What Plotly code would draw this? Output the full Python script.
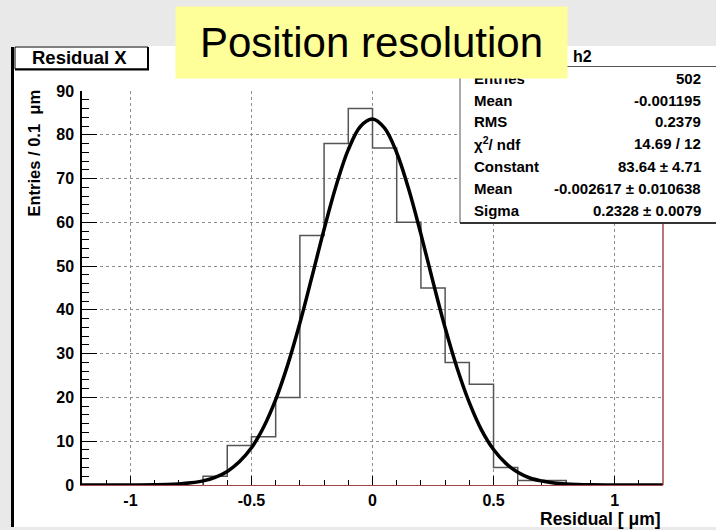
import plotly.graph_objects as go

# ---------------- data ----------------
hist_edges = [-0.7, -0.6, -0.5, -0.4, -0.3, -0.2, -0.1, 0.0, 0.1, 0.2, 0.3, 0.4, 0.5, 0.6, 0.7, 0.8]
hist_counts = [2, 9, 11, 20, 57, 78, 86, 77, 60, 45, 28, 23, 4, 1, 1]

fit_x = [-1.2, -1.1, -1.0, -0.9, -0.85, -0.8, -0.75, -0.7, -0.65, -0.6, -0.55, -0.5, -0.45,
         -0.4, -0.35, -0.3, -0.25, -0.2, -0.15, -0.1, -0.05, 0.0, 0.05, 0.1, 0.15, 0.2,
         0.25, 0.3, 0.35, 0.4, 0.45, 0.5, 0.55, 0.6, 0.65, 0.7, 0.75, 0.8, 0.85, 0.9,
         1.0, 1.1, 1.2]
fit_y = [0, 0, 0, 0.05, 0.1, 0.24, 0.5, 0.94, 1.75, 3.1, 5.3, 8.5, 13.2,
         19.5, 27.5, 37.0, 47.6, 58.4, 68.4, 76.6, 81.9, 83.6, 81.5, 75.9, 67.5, 57.3,
         46.4, 35.9, 26.6, 18.8, 12.6, 8.1, 5.0, 2.9, 1.6, 0.9, 0.45, 0.2, 0.1, 0.05,
         0, 0, 0]

x_tickvals = [-1, -0.5, 0, 0.5, 1]
x_ticktext = ["-1", "-0.5", "0", "0.5", "1"]
y_tickvals = [0, 10, 20, 30, 40, 50, 60, 70, 80, 90]
y_ticktext = ["0", "10", "20", "30", "40", "50", "60", "70", "80", "90"]

stat_labels = ["Entries", "Mean", "RMS", "χ<sup>2</sup>/ ndf", "Constant", "Mean", "Sigma"]
stat_values = ["502", "-0.001195", "0.2379", "14.69 / 12", "83.64 ± 4.71",
               "-0.002617 ± 0.010638", "0.2328 ± 0.0079"]

title_text = "Position resolution"
hist_title = "Residual X"
stats_title = "h2"
x_title = "Residual [ μm]"
y_title = "Entries / 0.1  μm"

# ---------------- geometry helpers ----------------
W, H = 716, 530
L, R, T, B = 82, 663, 91, 485


def xp(px):
    return (px - L) / (R - L)


def yp(py):
    return (B - py) / (B - T)


FONT = "Liberation Sans, Arial, Helvetica, sans-serif"

# histogram outline as steps
hx = [hist_edges[0]] + hist_edges + [hist_edges[-1]]
hy = [0] + hist_counts + [hist_counts[-1]] + [0]

fig = go.Figure()
fig.add_trace(go.Scatter(x=hx, y=hy, mode="lines", line=dict(color="#555555", width=1.5, shape="hv"),
                         hoverinfo="skip", showlegend=False))
fig.add_trace(go.Scatter(x=fit_x, y=fit_y, mode="lines",
                         line=dict(color="black", width=3.5, shape="spline", smoothing=1.0),
                         hoverinfo="skip", showlegend=False))

fig.update_layout(
    width=W, height=H, autosize=False,
    margin=dict(l=L, r=W - R, t=T, b=H - B, pad=0),
    paper_bgcolor="#e9e9e9", plot_bgcolor="white",
    font=dict(family=FONT, color="black"),
    showlegend=False,
)

fig.update_xaxes(
    range=[-1.2, 1.2], tickmode="array", tickvals=x_tickvals, ticktext=x_ticktext,
    ticks="inside", ticklen=9, tickwidth=1, tickcolor="black",
    minor=dict(tickmode="linear", tick0=0, dtick=0.1, ticks="inside", ticklen=5,
               tickwidth=1, tickcolor="black", showgrid=False),
    showgrid=True, gridcolor="#8c8c8c", griddash="dot", gridwidth=1,
    showline=True, linecolor="#a04848", linewidth=1, zeroline=False,
    tickfont=dict(family=FONT, size=16, color="black", weight="bold"),
    ticklabelstandoff=1, layer="below traces",
)
fig.update_yaxes(
    range=[0, 90], tickmode="array", tickvals=y_tickvals, ticktext=y_ticktext,
    ticks="inside", ticklen=15, tickwidth=1, tickcolor="black",
    minor=dict(tickmode="linear", tick0=0, dtick=2, ticks="inside", ticklen=7,
               tickwidth=1, tickcolor="black", showgrid=False),
    showgrid=True, gridcolor="#8c8c8c", griddash="dot", gridwidth=1,
    showline=True, linecolor="black", linewidth=1.5, zeroline=False,
    tickfont=dict(family=FONT, size=16, color="black", weight="bold"),
    ticklabelstandoff=3, layer="below traces",
)

shapes = []
# white canvas region
shapes.append(dict(type="rect", xref="paper", yref="paper", layer="below",
                   x0=xp(14), x1=xp(730), y0=yp(527), y1=yp(46),
                   fillcolor="white", line=dict(width=0)))
# left black border
shapes.append(dict(type="line", xref="paper", yref="paper", layer="above",
                   x0=xp(12.5), x1=xp(12.5), y0=yp(527), y1=yp(47),
                   line=dict(color="black", width=3)))
# red right frame edge
shapes.append(dict(type="line", xref="paper", yref="paper", layer="above",
                   x0=1, x1=1, y0=0, y1=1, line=dict(color="#a04848", width=1.5)))
# stats box
shapes.append(dict(type="rect", xref="paper", yref="paper", layer="above",
                   x0=xp(460), x1=xp(740), y0=yp(223), y1=yp(66.5),
                   fillcolor="white", line=dict(color="#555555", width=1)))
shapes.append(dict(type="line", xref="paper", yref="paper", layer="above",
                   x0=xp(460), x1=xp(740), y0=yp(223), y1=yp(223),
                   line=dict(color="#333333", width=2)))
# "Residual X" box
shapes.append(dict(type="rect", xref="paper", yref="paper", layer="above",
                   x0=xp(15), x1=xp(148), y0=yp(69), y1=yp(47),
                   fillcolor="white", line=dict(color="black", width=1)))
shapes.append(dict(type="line", xref="paper", yref="paper", layer="above",
                   x0=xp(148), x1=xp(148), y0=yp(70), y1=yp(47),
                   line=dict(color="black", width=2)))
shapes.append(dict(type="line", xref="paper", yref="paper", layer="above",
                   x0=xp(15), x1=xp(149), y0=yp(69.5), y1=yp(69.5),
                   line=dict(color="black", width=2)))
fig.update_layout(shapes=shapes)

ann = []
bold = dict(family=FONT, size=15, color="black", weight="bold")
row_y = [78, 100, 121.5, 143.5, 166, 188, 210]
for lab, val, ry in zip(stat_labels, stat_values, row_y):
    ann.append(dict(text=lab, xref="paper", yref="paper", x=xp(472), y=yp(ry),
                    xanchor="left", yanchor="middle", showarrow=False, font=bold))
    ann.append(dict(text=val, xref="paper", yref="paper", x=xp(703), y=yp(ry),
                    xanchor="right", yanchor="middle", showarrow=False, font=bold))
ann.append(dict(text=stats_title, xref="paper", yref="paper", x=xp(571), y=yp(56.5),
                xanchor="left", yanchor="middle", showarrow=False,
                font=dict(family=FONT, size=16, color="black", weight="bold")))
ann.append(dict(text=hist_title, xref="paper", yref="paper", x=xp(79), y=yp(58),
                xanchor="center", yanchor="middle", showarrow=False,
                font=dict(family=FONT, size=18.5, color="black", weight="bold")))
ann.append(dict(text=x_title, xref="paper", yref="paper", x=xp(663), y=yp(519),
                xanchor="right", yanchor="middle", showarrow=False,
                font=dict(family=FONT, size=17.5, color="black", weight="bold")))
ann.append(dict(text=y_title, xref="paper", yref="paper", x=xp(33), y=yp(88),
                xanchor="center", yanchor="top", textangle=-90, showarrow=False,
                font=dict(family=FONT, size=16.5, color="black", weight="bold")))
# big yellow title (drawn last so it overlays the stats box)
ann.append(dict(text=title_text, xref="paper", yref="paper", x=xp(175), y=yp(6),
                xanchor="left", yanchor="top", showarrow=False,
                width=391, height=71, borderpad=0, bgcolor="#ffff99",
                align="center", valign="middle",
                font=dict(family=FONT, size=42, color="black")))
fig.update_layout(annotations=ann)

fig.write_html("out.html")
